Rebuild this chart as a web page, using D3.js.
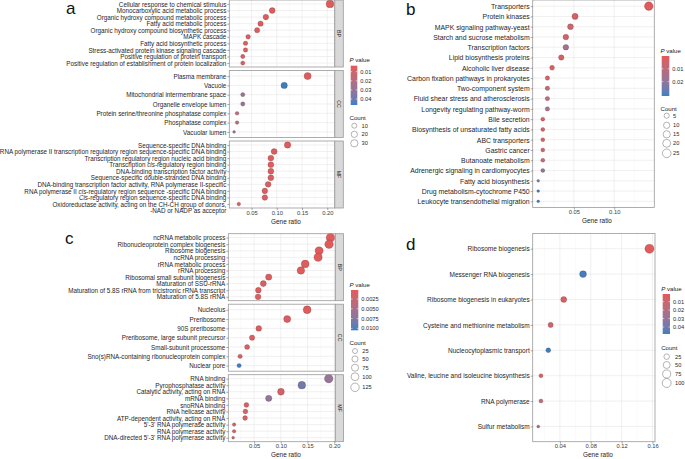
<!DOCTYPE html>
<html><head><meta charset="utf-8">
<script src="https://cdn.jsdelivr.net/npm/d3@7"></script>
<style>body{margin:0;background:#fff}svg{display:block}</style>
</head><body>
<script>
// ---------------- DATA ----------------
// Panel a (GO)
const aBPTerms = ["Cellular response to chemical stimulus","Monocarboxylic acid metabolic process","Organic hydroxy compound metabolic process","Fatty acid metabolic process","Organic hydroxy compound biosynthetic process","MAPK cascade","Fatty acid biosynthetic process","Stress-activated protein kinase signaling cascade","Positive regulation of protein transport","Positive regulation of establishment of protein localization"];
const aBPRatio = [0.2054,0.0909,0.0784,0.0679,0.0611,0.0433,0.0381,0.0381,0.0327,0.0327];
const aBPCount = [37,16,14,12,11,8,7,7,6,6];
const aBPP = [0.0034,0.004,0.0045,0.005,0.005,0.006,0.006,0.0065,0.007,0.007];
const aCCTerms = ["Plasma membrane","Vacuole","Mitochondrial intermembrane space","Organelle envelope lumen","Protein serine/threonine phosphatase complex","Phosphatase complex","Vacuolar lumen"];
const aCCRatio = [0.1611,0.1147,0.0327,0.0327,0.0214,0.0214,0.0155];
const aCCCount = [29,21,6,6,4,4,3];
const aCCP = [0.005,0.0466,0.028,0.03,0.019,0.019,0.03];
const aMFTerms = ["Sequence-specific DNA binding","RNA polymerase II transcription regulatory region sequence-specific DNA binding","Transcription regulatory region nucleic acid binding","Transcription <i>cis</i>-regulatory region binding","DNA-binding transcription factor activity","Sequence-specific double-stranded DNA binding","DNA-binding transcription factor activity, RNA polymerase II-specific","RNA polymerase II <i>cis</i>-regulatory region sequence -specific DNA binding","<i>Cis</i>-regulatory region sequence-specific DNA binding","Oxidoreductase activity, acting on the CH-CH group of donors,\n-NAD or NADP as acceptor"];
const aMFRatio = [0.1214,0.0948,0.0883,0.0883,0.0883,0.0883,0.0829,0.0764,0.0764,0.0248];
const aMFCount = [22,17,16,16,16,16,15,14,14,4];
const aMFP = [0.004,0.005,0.005,0.006,0.005,0.006,0.006,0.007,0.007,0.006];
const aTicks = [0.05,0.10,0.15,0.20];
const aPTicks = [0.01,0.02,0.03,0.04];
const aCountTicks = [10,20,30];

// Panel b (KEGG)
const bTerms = ["Transporters","Protein kinases","MAPK signaling pathway-yeast","Starch and sucrose metabolism","Transcription factors","Lipid biosynthesis proteins","Alcoholic liver disease","Carbon fixation pathways in prokaryotes","Two-component system","Fluid shear stress and atherosclerosis","Longevity regulating pathway-worm","Bile secretion","Biosynthesis of unsaturated fatty acids","ABC transporters","Gastric cancer","Butanoate metabolism","Adrenergic signaling in cardiomyocytes","Fatty acid biosynthesis","Drug metabolism-cytochrome P450","Leukocyte transendothelial migration"];
const bRatio = [0.1429,0.0514,0.0457,0.0400,0.0400,0.0343,0.0229,0.0171,0.0171,0.0171,0.0171,0.0114,0.0114,0.0114,0.0114,0.0114,0.0114,0.0057,0.0057,0.0057];
const bCount = [25,9,8,7,7,6,4,3,3,3,3,2,2,2,2,2,2,1,1,1];
const bP = [0.00002,0.004,0.007,0.004,0.016,0.003,0.002,0.004,0.009,0.009,0.015,0.003,0.003,0.004,0.004,0.010,0.021,0.024,0.0313,0.0313];
const bTicks = [0.05,0.10];
const bPTicks = [0.01,0.02];
const bCountTicks = [5,10,15,20,25];

// Panel c (GO)
const cBPTerms = ["ncRNA metabolic process","Ribonucleoprotein complex biogenesis","Ribosome biogenesis","ncRNA processing","rRNA metabolic process","rRNA processing","Ribosomal small subunit biogenesis","Maturation of SSU-rRNA","Maturation of 5.8S rRNA from tricistronic rRNA transcript","Maturation of 5.8S rRNA"];
const cBPRatio = [0.1929,0.1903,0.1717,0.1698,0.1456,0.1376,0.0774,0.0673,0.0580,0.0575];
const cBPCount = [131,129,117,115,99,94,53,46,39,39];
const cBPP = [0.0002,0.0003,0.0003,0.0004,0.0004,0.0005,0.0006,0.0008,0.0009,0.001];
const cCCTerms = ["Nucleolus","Preribosome","90S preribosome","Preribosome, large subunit precursor","Small-subunit processome","Sno(s)RNA-containing ribonucleoprotein complex","Nuclear pore"];
const cCCRatio = [0.1493,0.1120,0.0588,0.0463,0.0370,0.0239,0.0220];
const cCCCount = [102,76,40,31,25,16,15];
const cCCP = [0.0005,0.0006,0.001,0.001,0.0012,0.0015,0.0105];
const cMFTerms = ["RNA binding","Pyrophosphatase activity","Catalytic activity, acting on RNA","mRNA binding","snoRNA binding","RNA helicase activity","ATP-dependent activity, acting on RNA","5'-3' RNA polymerase activity","RNA polymerase activity","DNA-directed 5'-3' RNA polymerase activity"];
const cMFRatio = [0.1897,0.1394,0.1003,0.0774,0.0357,0.0338,0.0332,0.0127,0.0127,0.0109];
const cMFCount = [129,95,68,53,24,23,23,9,9,7];
const cMFP = [0.0065,0.0085,0.0015,0.0065,0.001,0.0015,0.0015,0.002,0.002,0.0035];
const cTicks = [0.05,0.10,0.15,0.20];
const cPTicks = [0.0025,0.0050,0.0075,0.0100];
const cCountTicks = [25,50,75,100,125];

// Panel d (KEGG)
const dTerms = ["Ribosome biogenesis","Messenger RNA biogenesis","Ribosome biogenesis in eukaryotes","Cysteine and methionine metabolism","Nucleocytoplasmic transport","Valine, leucine and isoleucine biosynthesis","RNA polymerase","Sulfur metabolism"];
const dRatio = [0.156,0.070,0.045,0.028,0.025,0.0155,0.0155,0.012];
const dCount = [109,49,32,20,17,11,11,8];
const dP = [0.00087,0.047,0.004,0.008,0.0483,0.006,0.018,0.026];
const dTicks = [0.04,0.08,0.12,0.16];
const dPTicks = [0.01,0.02,0.03,0.04];
const dCountTicks = [25,50,75,100];

// ---------------- DRAWING ----------------
const FONT = "'Liberation Sans', Arial, Helvetica, sans-serif";
const RED = "#E25A5A", BLUE = "#3A7EC0";
const svg = d3.select("body").append("svg").attr("width",685).attr("height",459)
  .style("font-family",FONT);
let gradId = 0;

function makeColor(ps){ return d3.scaleLinear().domain(d3.extent(ps)).range([RED,BLUE]).interpolate(d3.interpolateLab); }
function makeSize(counts, rr){
  const s = d3.scaleSqrt().domain([0,1]).range([0,1]);
  const ext = d3.extent(counts);
  return c => rr[0] + (rr[1]-rr[0]) * s(Math.max(0,(c-ext[0])/(ext[1]-ext[0])));
}

function setLabel(textSel, label, fs){
  textSel.text(null);
  const lines = label.split("\n");
  lines.forEach((ln,i)=>{
    const line = textSel.append("tspan").attr("x", textSel.attr("x")).attr("dy", i===0 ? "0.34em" : (fs*1.0)+"px");
    ln.split(/(<i>.*?<\/i>)/).forEach(p=>{
      if(!p) return;
      const it = p.startsWith("<i>");
      line.append("tspan").style("font-style", it ? "italic" : null).text(it ? p.slice(3,-4) : p);
    });
  });
}

function drawPanel(cfg){
  const g = svg.append("g");
  const allR = cfg.facets.flatMap(f=>f.ratio);
  const ext = d3.extent(allR), pad = (ext[1]-ext[0])*0.05;
  const x = d3.scaleLinear().domain([ext[0]-pad, ext[1]+pad]).range([cfg.x0, cfg.x1]);
  const allC = cfg.facets.flatMap(f=>f.count);
  const size = makeSize(allC, cfg.rr);
  const color = makeColor(cfg.facets.flatMap(f=>f.p));
  const step = cfg.ticks[1]-cfg.ticks[0];
  const minors = [];
  for(let v = cfg.ticks[0]-step/2; v <= x.domain()[1]; v += step) if(v >= x.domain()[0]) minors.push(v);
  let bottom = 0;
  cfg.facets.forEach((f,fi)=>{
    const top = cfg.tops[fi], bot = top + cfg.h;
    bottom = bot;
    const y = d3.scalePoint().domain(f.terms).range([top, bot]).padding(0.6);
    const fg = g.append("g");
    fg.append("rect").attr("x",cfg.x0).attr("y",top).attr("width",cfg.x1-cfg.x0).attr("height",cfg.h).attr("fill","#fff");
    fg.selectAll(".mn").data(minors).join("line").attr("x1",d=>x(d)).attr("x2",d=>x(d)).attr("y1",top).attr("y2",bot)
      .attr("stroke","#f3f3f3").attr("stroke-width",0.4);
    fg.selectAll(".mj").data(cfg.ticks).join("line").attr("x1",d=>x(d)).attr("x2",d=>x(d)).attr("y1",top).attr("y2",bot)
      .attr("stroke","#e6e6e6").attr("stroke-width",0.6);
    fg.selectAll(".hy").data(f.terms).join("line").attr("x1",cfg.x0).attr("x2",cfg.x1).attr("y1",d=>y(d)).attr("y2",d=>y(d))
      .attr("stroke","#e6e6e6").attr("stroke-width",0.6);
    const pts = f.terms.map((t,i)=>({t, r:f.ratio[i], c:f.count[i], p:f.p[i]}));
    fg.selectAll("circle").data(pts).join("circle")
      .attr("cx",d=>x(d.r)).attr("cy",d=>y(d.t)).attr("r",d=>size(d.c))
      .attr("fill",d=>color(d.p)).attr("stroke","rgba(60,30,30,0.55)").attr("stroke-width",0.35);
    fg.append("rect").attr("x",cfg.x0).attr("y",top).attr("width",cfg.x1-cfg.x0).attr("height",cfg.h)
      .attr("fill","none").attr("stroke","#9a9a9a").attr("stroke-width",0.8);
    const ay = fg.append("g").attr("transform",`translate(${cfg.x0},0)`).call(d3.axisLeft(y).tickSize(2).tickPadding(1));
    ay.attr("font-family",FONT).attr("font-size",cfg.fs);
    ay.select(".domain").remove();
    ay.selectAll(".tick line").attr("stroke","#555").attr("stroke-width",0.5);
    ay.selectAll(".tick text").attr("fill","#262626").each(function(d){ setLabel(d3.select(this), d, cfg.fs); });
    if(f.name){
      fg.append("rect").attr("x",cfg.x1).attr("y",top).attr("width",cfg.stripW).attr("height",cfg.h)
        .attr("fill","#d9d9d9").attr("stroke","#9a9a9a").attr("stroke-width",0.8);
      fg.append("text").attr("transform",`translate(${cfg.x1+cfg.stripW/2},${top+cfg.h/2}) rotate(90)`)
        .attr("text-anchor","middle").attr("dy","0.35em").attr("font-size",5.3).attr("fill","#1a1a1a").text(f.name);
    }
  });
  const ax = g.append("g").attr("transform",`translate(0,${bottom})`)
    .call(d3.axisBottom(x).tickValues(cfg.ticks).tickSize(2).tickPadding(0.5).tickFormat(d3.format(".2f")));
  ax.attr("font-family",FONT).attr("font-size",5.8);
  ax.select(".domain").remove();
  ax.selectAll(".tick line").attr("stroke","#555").attr("stroke-width",0.5);
  ax.selectAll(".tick text").attr("fill","#3a3a3a");
  g.append("text").attr("x",cfg.titleX).attr("y",bottom+15.5).attr("text-anchor","middle")
    .attr("font-size",6.4).attr("fill","#1a1a1a").text("Gene ratio");
  g.append("text").attr("x",cfg.letter[0]).attr("y",cfg.letter[1]).attr("font-size",17).attr("fill","#111").text(cfg.letterText);
  const L = cfg.legend;
  const lg = svg.append("g");
  const pt = lg.append("text").attr("x",L.x).attr("y",L.pTitleY).attr("font-size",6.1).attr("fill","#1a1a1a");
  pt.append("tspan").style("font-style","italic").text("P");
  pt.append("tspan").text(" value");
  const id = "grad"+(gradId++);
  const grad = svg.append("defs").append("linearGradient").attr("id",id).attr("x1",0).attr("x2",0).attr("y1",0).attr("y2",1);
  const dom = color.domain();
  d3.range(0,1.0001,0.05).forEach(t=>grad.append("stop").attr("offset",t).attr("stop-color",color(dom[0]+t*(dom[1]-dom[0]))));
  lg.append("rect").attr("x",L.barX).attr("y",L.barY0).attr("width",L.barW).attr("height",L.barY1-L.barY0).attr("fill",`url(#${id})`);
  const by = d3.scaleLinear().domain(dom).range([L.barY0, L.barY1]);
  L.pTicks.forEach(v=>{
    lg.append("line").attr("x1",L.barX).attr("x2",L.barX+1.5).attr("y1",by(v)).attr("y2",by(v)).attr("stroke","#fff").attr("stroke-width",0.6);
    lg.append("line").attr("x1",L.barX+L.barW-1.5).attr("x2",L.barX+L.barW).attr("y1",by(v)).attr("y2",by(v)).attr("stroke","#fff").attr("stroke-width",0.6);
    lg.append("text").attr("x",L.barX+L.barW+3).attr("y",by(v)).attr("dy","0.35em").attr("font-size",5.7).attr("fill","#2a2a2a").text(L.pFmt(v));
  });
  lg.append("text").attr("x",L.x).attr("y",L.cTitleY).attr("font-size",6.1).attr("fill","#1a1a1a").text("Count");
  L.countTicks.forEach((v,i)=>{
    lg.append("circle").attr("cx",L.cx).attr("cy",L.cys[i]).attr("r",size(v)).attr("fill","none").attr("stroke","#777").attr("stroke-width",0.55);
    lg.append("text").attr("x",L.clx).attr("y",L.cys[i]).attr("dy","0.35em").attr("font-size",5.7).attr("fill","#2a2a2a").text(v);
  });
}

drawPanel({
  facets:[{name:"BP",terms:aBPTerms,ratio:aBPRatio,count:aBPCount,p:aBPP},
          {name:"CC",terms:aCCTerms,ratio:aCCRatio,count:aCCCount,p:aCCP},
          {name:"MF",terms:aMFTerms,ratio:aMFRatio,count:aMFCount,p:aMFP}],
  x0:229.3, x1:334.8, tops:[0,70.5,141], h:67, stripW:8.5, fs:6.3, rr:[1.4,3.9],
  ticks:aTicks, titleX:286, letter:[66,14], letterText:"a",
  legend:{x:349.5,pTitleY:62.3,barX:350.7,barW:6.6,barY0:65.7,barY1:105,pTicks:aPTicks,pFmt:d3.format(".2f"),
          cTitleY:119.5,cx:354.3,cys:[125.7,134.3,143.3],clx:361.5,countTicks:aCountTicks}
});
drawPanel({
  facets:[{name:null,terms:bTerms,ratio:bRatio,count:bCount,p:bP}],
  x0:532.7, x1:654.3, tops:[0], h:207.5, stripW:0, fs:6.9, rr:[1.4,4.3],
  ticks:bTicks, titleX:597, letter:[406,15], letterText:"b",
  legend:{x:660.5,pTitleY:53,barX:661.7,barW:7.6,barY0:56,barY1:96,pTicks:bPTicks,pFmt:d3.format(".2f"),
          cTitleY:111.3,cx:666.7,cys:[115.7,125.3,134.3,143.3,153.3],clx:673,countTicks:bCountTicks}
});
drawPanel({
  facets:[{name:"BP",terms:cBPTerms,ratio:cBPRatio,count:cBPCount,p:cBPP},
          {name:"CC",terms:cCCTerms,ratio:cCCRatio,count:cCCCount,p:cCCP},
          {name:"MF",terms:cMFTerms,ratio:cMFRatio,count:cMFCount,p:cMFP}],
  x0:228.3, x1:335.3, tops:[233.7,304.2,374.7], h:67, stripW:8.3, fs:6.3, rr:[1.4,4.3],
  ticks:cTicks, titleX:286, letter:[65,244.3], letterText:"c",
  legend:{x:349.5,pTitleY:286.5,barX:351,barW:7.3,barY0:290,barY1:330.3,pTicks:cPTicks,pFmt:d3.format(".4f"),
          cTitleY:344.5,cx:355,cys:[351,359,367.7,376.7,387.3],clx:362.3,countTicks:cCountTicks}
});
drawPanel({
  facets:[{name:null,terms:dTerms,ratio:dRatio,count:dCount,p:dP}],
  x0:532.7, x1:655, tops:[233.5], h:208.2, stripW:0, fs:6.5, rr:[1.5,4.6],
  ticks:dTicks, titleX:598, letter:[406,250], letterText:"d",
  legend:{x:661.2,pTitleY:290.5,barX:662.7,barW:7.3,barY0:294,barY1:334,pTicks:dPTicks,pFmt:d3.format(".2f"),
          cTitleY:350,cx:666.7,cys:[356.7,365,374,383],clx:675,countTicks:dCountTicks}
});
</script>
</body></html>
